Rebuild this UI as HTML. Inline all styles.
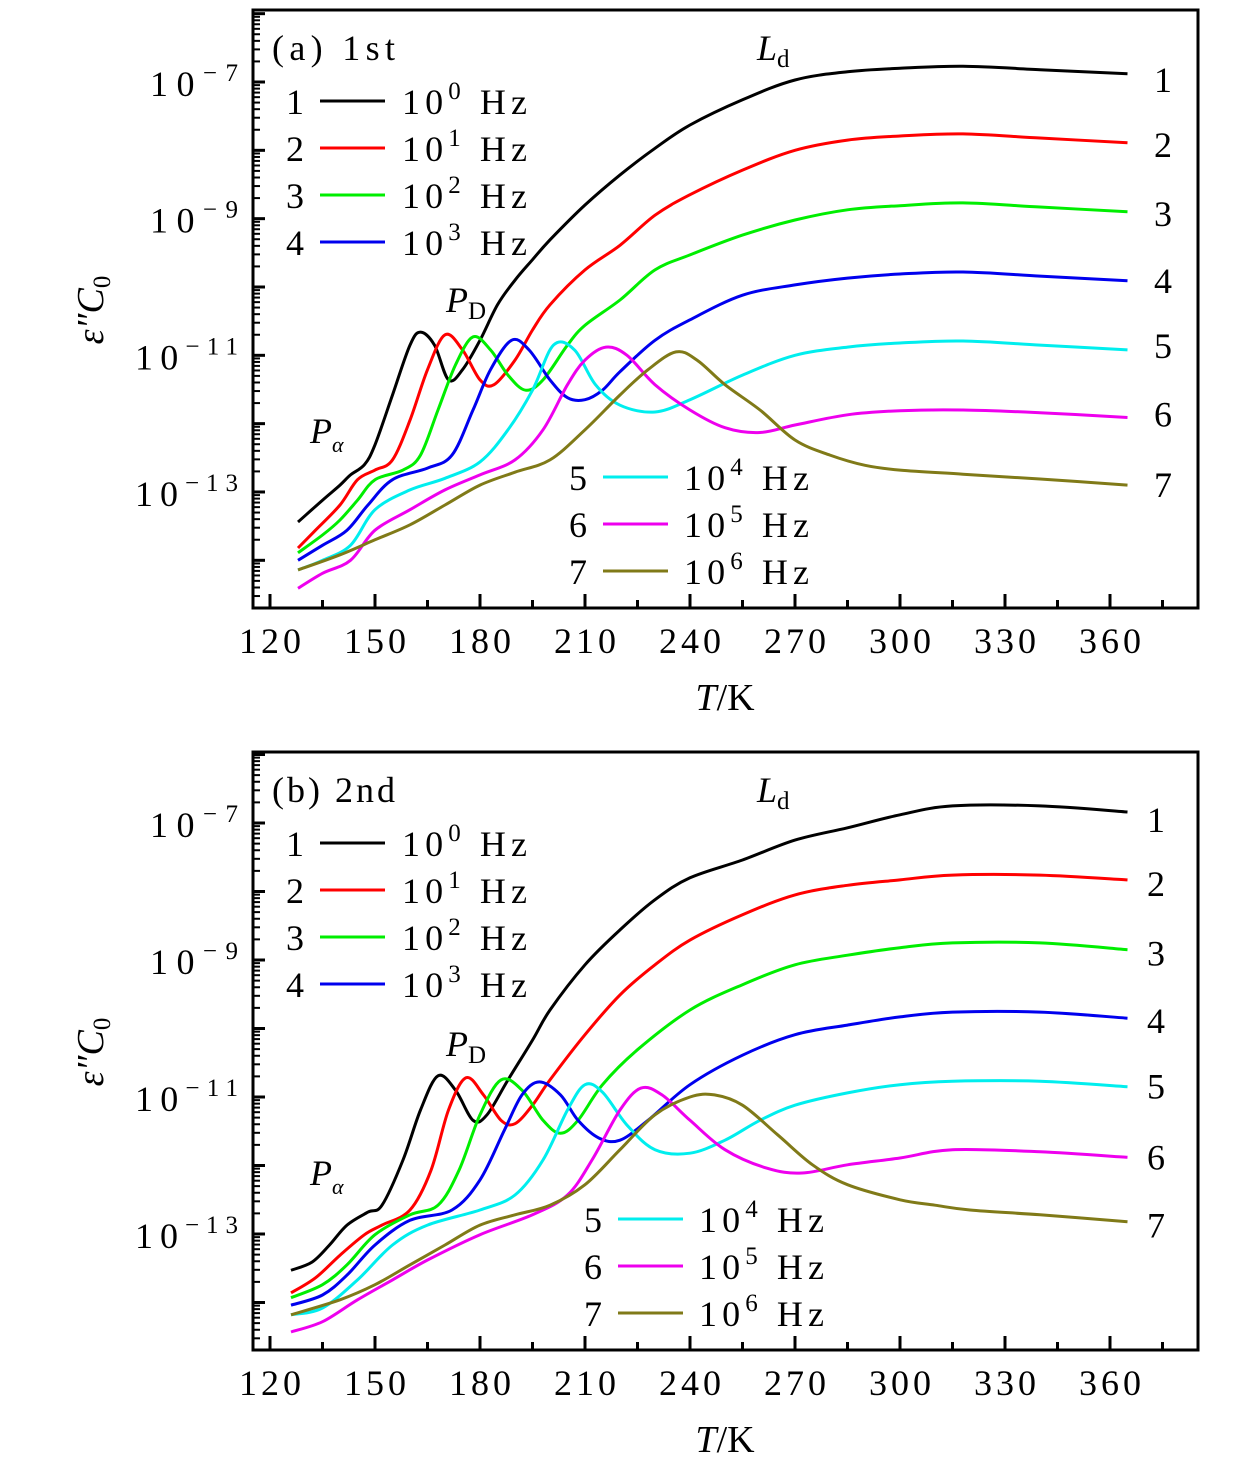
<!DOCTYPE html>
<html><head><meta charset="utf-8"><style>
html,body{margin:0;padding:0;background:#fff}
svg text{font-family:"Liberation Serif","DejaVu Serif",serif;fill:#000}
</style></head><body>
<svg id="chart" width="1260" height="1472" viewBox="0 0 1260 1472" xmlns="http://www.w3.org/2000/svg"></svg>
<script>
const colors=["#000000","#ff0000","#00ee00","#0000ee","#00eeee","#ee00ee","#807a18"];
const freqExp=["0","1","2","3","4","5","6"];
const xTicks=[120,150,180,210,240,270,300,330,360];
const yTickExp=[-7,-9,-11,-13];
// Panel (a) data: temperatures and log10(eps''C0)
const aT=[
[128,135,140,143,147,150,155,160,163,167,171,175,180,185,190,195,200,210,220,230,240,255,270,285,300,318,340,365],
[128,133,140,145,150,155,160,165,170,175,180,184,190,195,200,210,220,230,240,255,270,285,300,318,340,365],
[128,135,140,145,150,158,163,168,173,178,183,188,193,198,205,210,220,230,240,255,270,285,300,318,340,365],
[128,135,142,148,155,165,172,178,183,189,194,200,205,210,215,220,230,240,255,270,285,300,318,340,365],
[128,135,143,150,160,170,180,188,195,201,207,213,220,230,240,255,270,285,300,318,340,365],
[128,135,143,150,160,170,180,190,198,205,210,216,222,230,240,250,260,270,285,300,318,340,365],
[128,140,150,160,170,180,190,200,210,220,228,236,242,250,260,270,280,290,300,318,340,365]];
const aV=[
[-13.44,-13.12,-12.9,-12.75,-12.6,-12.31,-11.58,-10.85,-10.66,-10.85,-11.36,-11.21,-10.78,-10.26,-9.9,-9.6,-9.31,-8.8,-8.36,-7.97,-7.63,-7.26,-6.97,-6.85,-6.8,-6.77,-6.82,-6.88],
[-13.82,-13.56,-13.19,-12.82,-12.68,-12.53,-11.95,-11.21,-10.7,-10.92,-11.36,-11.43,-11.07,-10.63,-10.26,-9.75,-9.39,-8.95,-8.65,-8.29,-8.0,-7.85,-7.79,-7.76,-7.82,-7.89],
[-13.89,-13.63,-13.41,-13.12,-12.82,-12.68,-12.46,-11.8,-11.14,-10.73,-10.92,-11.29,-11.51,-11.36,-10.85,-10.56,-10.19,-9.75,-9.53,-9.24,-9.02,-8.87,-8.81,-8.77,-8.83,-8.9],
[-14.0,-13.78,-13.56,-13.19,-12.82,-12.65,-12.46,-11.8,-11.21,-10.78,-10.92,-11.36,-11.62,-11.65,-11.51,-11.24,-10.78,-10.48,-10.12,-9.97,-9.87,-9.81,-9.78,-9.84,-9.91],
[-14.14,-14.0,-13.78,-13.26,-12.97,-12.8,-12.56,-12.09,-11.51,-10.85,-10.92,-11.43,-11.73,-11.83,-11.65,-11.29,-11.0,-10.88,-10.82,-10.79,-10.85,-10.92],
[-14.41,-14.19,-14.0,-13.56,-13.26,-12.97,-12.75,-12.53,-12.09,-11.43,-11.07,-10.88,-11.0,-11.43,-11.8,-12.06,-12.13,-12.02,-11.87,-11.81,-11.8,-11.84,-11.91],
[-14.14,-13.92,-13.7,-13.48,-13.19,-12.9,-12.71,-12.53,-12.09,-11.58,-11.21,-10.95,-11.07,-11.43,-11.8,-12.24,-12.46,-12.61,-12.68,-12.74,-12.81,-12.9]];
// Panel (b)
const bT=[
[126,132,137,142,148,152,158,163,168,173,178,182,188,195,200,210,220,230,240,255,270,285,300,315,340,365],
[126,133,140,147,152,160,166,171,176,181,186,190,195,200,210,220,230,240,255,270,285,300,315,340,365],
[126,135,142,150,160,168,174,180,186,192,198,203,208,215,225,240,255,270,285,300,315,340,365],
[126,135,142,150,160,172,180,187,192,197,203,208,214,220,228,240,255,270,285,300,315,340,365],
[126,135,145,155,165,180,190,198,205,210,215,222,230,240,250,260,270,285,300,315,340,365],
[126,135,145,155,165,180,195,205,212,220,226,232,240,250,262,272,285,300,315,340,365],
[126,140,150,160,170,180,190,200,210,220,230,240,247,255,265,275,285,300,310,320,340,365]];
const bV=[
[-13.53,-13.41,-13.16,-12.87,-12.68,-12.58,-11.92,-11.19,-10.69,-10.9,-11.34,-11.26,-10.75,-10.17,-9.73,-9.07,-8.56,-8.12,-7.8,-7.54,-7.25,-7.07,-6.88,-6.75,-6.75,-6.84],
[-13.86,-13.64,-13.31,-13.01,-12.87,-12.65,-12.07,-11.19,-10.72,-10.97,-11.34,-11.39,-11.12,-10.75,-10.09,-9.51,-9.07,-8.71,-8.34,-8.05,-7.91,-7.83,-7.76,-7.76,-7.83],
[-13.93,-13.74,-13.45,-13.01,-12.72,-12.58,-12.07,-11.26,-10.75,-10.9,-11.34,-11.53,-11.34,-10.82,-10.31,-9.73,-9.36,-9.07,-8.93,-8.82,-8.75,-8.75,-8.85],
[-14.04,-13.89,-13.6,-13.16,-12.8,-12.65,-12.21,-11.48,-10.97,-10.78,-10.97,-11.34,-11.6,-11.63,-11.34,-10.82,-10.39,-10.09,-9.95,-9.83,-9.76,-9.76,-9.85],
[-14.18,-14.08,-13.67,-13.16,-12.87,-12.65,-12.43,-11.92,-11.19,-10.82,-10.93,-11.41,-11.77,-11.82,-11.63,-11.34,-11.12,-10.94,-10.82,-10.77,-10.77,-10.85],
[-14.43,-14.28,-13.96,-13.67,-13.38,-13.01,-12.72,-12.43,-11.92,-11.19,-10.87,-10.97,-11.34,-11.77,-12.04,-12.11,-11.99,-11.89,-11.77,-11.8,-11.88],
[-14.18,-13.96,-13.74,-13.45,-13.16,-12.87,-12.72,-12.58,-12.28,-11.77,-11.26,-11.0,-10.97,-11.12,-11.55,-11.99,-12.28,-12.5,-12.58,-12.65,-12.72,-12.82]];

const NS="http://www.w3.org/2000/svg";
const svg=document.getElementById('chart');
function mk(tag,attrs,parent,text){const e=document.createElementNS(NS,tag);for(const k in attrs)e.setAttribute(k,attrs[k]);if(text!==undefined)e.textContent=text;(parent||svg).appendChild(e);return e;}
function smoothPath(pts){
  let d='M'+pts[0][0].toFixed(1)+','+pts[0][1].toFixed(1);
  for(let i=0;i<pts.length-1;i++){
    const p0=pts[Math.max(0,i-1)],p1=pts[i],p2=pts[i+1],p3=pts[Math.min(pts.length-1,i+2)];
    const c1x=p1[0]+(p2[0]-p0[0])/6,c1y=p1[1]+(p2[1]-p0[1])/6;
    const c2x=p2[0]-(p3[0]-p1[0])/6,c2y=p2[1]-(p3[1]-p1[1])/6;
    d+=' C'+c1x.toFixed(1)+','+c1y.toFixed(1)+' '+c2x.toFixed(1)+','+c2y.toFixed(1)+' '+p2[0].toFixed(1)+','+p2[1].toFixed(1);
  }
  return d;
}

function panel(cfg){
  const g=mk('g',{});
  
  
  const L=253,R=1198,T=cfg.top,B=cfg.top+598;
  const xS=t=>270+(t-120)*3.5;
  const yS=v=>cfg.y7+(-7-v)*cfg.dec;
  cfg.Ts.forEach((ts,i)=>{
    const pts=ts.map((t,j)=>[xS(t),yS(cfg.Vs[i][j])]);
    const p=mk('path',{d:smoothPath(pts),fill:'none',stroke:colors[i],'stroke-width':3,'stroke-linejoin':'round'},g);
    
    
    const lab=mk('text',{x:cfg.rx,y:yS(cfg.Vs[i][cfg.Vs[i].length-1])+cfg.roff[i],'font-size':36,'text-anchor':'middle'},g,String(i+1));
    
    
  });
  const f=mk('rect',{x:L,y:T,width:R-L,height:B-T,fill:'none',stroke:'#000','stroke-width':3},g);
  
  
  for(let t=120;t<=375;t+=15){
    const maj=(t%30===0);
    mk('line',{x1:xS(t),x2:xS(t),y1:B,y2:B-(maj?14:8),stroke:'#000','stroke-width':3},g);
  }
  xTicks.forEach(t=>{
    const tx=mk('text',{x:xS(t)-31,y:B+45,'font-size':36,textLength:62,lengthAdjust:'spacing'},g,String(t));
    
    
  });
  for(let d=-15;d<=-5;d++){
    for(let m=1;m<10;m++){
      const v=d+Math.log10(m);const y=yS(v);
      if(y<T+1||y>B-1)continue;
      mk('line',{x1:L,x2:L+(m===1?12:7),y1:y,y2:y,stroke:'#000','stroke-width':(m===1?3:2)},g);
    }
  }
  yTickExp.forEach(e=>{
    const w=(e<=-10)?103:88;
    const tx=mk('text',{x:238-w,y:yS(e)+14,'font-size':36,textLength:w,lengthAdjust:'spacing'},g);
    
    
    mk('tspan',{},tx,'10');
    mk('tspan',{dy:-15,'font-size':25},tx,'−'+(-e));
  });
  const yt=mk('text',{transform:'translate(103,'+(T+300)+') rotate(-90)','font-size':38,'text-anchor':'middle','font-style':'italic'},g);
  
  
  mk('tspan',{},yt,'ε″C');
  mk('tspan',{dy:7,'font-size':25,'font-style':'normal'},yt,'0');
  const xt=mk('text',{x:725,y:B+102,'font-size':38,'text-anchor':'middle'},g);
  
  
  mk('tspan',{'font-style':'italic'},xt,'T');
  mk('tspan',{},xt,'/K');
  const pt=mk('text',{x:272,y:T+50,'font-size':36,textLength:123,lengthAdjust:'spacing'},g,cfg.title);
  
  
  const ld=mk('text',{x:757,y:T+50,'font-size':36,'font-style':'italic'},g);
  
  
  mk('tspan',{},ld,'L');mk('tspan',{dy:7,'font-size':25,'font-style':'normal'},ld,'d');
  const pd=mk('text',{x:446,y:T+cfg.pdY,'font-size':36,'font-style':'italic'},g);
  
  
  mk('tspan',{},pd,'P');mk('tspan',{dy:7,'font-size':25,'font-style':'normal'},pd,'D');
  const pa=mk('text',{x:310,y:T+cfg.paY,'font-size':36,'font-style':'italic'},g);
  
  
  mk('tspan',{},pa,'P');mk('tspan',{dy:9,'font-size':22},pa,'α');
  for(let i=0;i<7;i++){
    const lg=mk('g',{},g);
    
    
    let nx,lx,tx,y;
    if(i<4){nx=295;lx=320;tx=402;y=T+91+i*47;}
    else{nx=cfg.l2x;lx=cfg.l2x+25;tx=cfg.l2x+106;y=T+cfg.l2y+(i-4)*47;}
    mk('text',{x:nx,y:y+13,'font-size':36,'text-anchor':'middle'},lg,String(i+1));
    mk('line',{x1:lx,x2:lx+65,y1:y,y2:y,stroke:colors[i],'stroke-width':3},lg);
    const t=mk('text',{x:tx,y:y+13,'font-size':36,textLength:125,lengthAdjust:'spacing'},lg);
    mk('tspan',{},t,'10');mk('tspan',{dy:-15,'font-size':25},t,freqExp[i]);mk('tspan',{dy:15},t,' Hz');
  }
}
panel({id:'a',top:10,y7:82,dec:68.33,Ts:aT,Vs:aV,rx:1163,roff:[18,14,14,12,8,9,12],title:'(a) 1st',pdY:302,paY:433,l2x:578,l2y:467});
panel({id:'b',top:752,y7:823,dec:68.5,Ts:bT,Vs:bV,rx:1156,roff:[20,16,16,15,12,12,16],title:'(b) 2nd',pdY:304,paY:433,l2x:593,l2y:467});
</script>
</body></html>
